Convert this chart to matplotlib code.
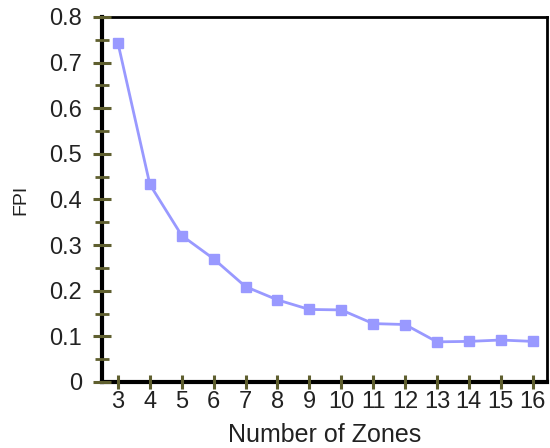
import matplotlib
matplotlib.use("Agg")
import matplotlib.pyplot as plt
from matplotlib.ticker import MultipleLocator

zones = [3, 4, 5, 6, 7, 8, 9, 10, 11, 12, 13, 14, 15, 16]
fpi = [0.743, 0.433, 0.321, 0.270, 0.209, 0.180, 0.159, 0.158, 0.128, 0.126, 0.088, 0.089, 0.092, 0.089]
yticks = [0, 0.1, 0.2, 0.3, 0.4, 0.5, 0.6, 0.7, 0.8]
ytick_labels = ["0", "0.1", "0.2", "0.3", "0.4", "0.5", "0.6", "0.7", "0.8"]

plt.rcParams['font.family'] = ['Liberation Sans', 'DejaVu Sans']

fig = plt.figure(figsize=(5.5, 4.48), dpi=100)
ax = fig.add_axes([102/550, 1-382/448, (547-102)/550, (382-17)/448])

ax.plot(zones, fpi, color='#9999ff', lw=2, marker='s', ms=6.5, mec='#9999ff', mfc='#9999ff', clip_on=False)

ax.set_xlim(2.5, 16.45)
ax.set_ylim(0, 0.8)
ax.set_xticks(zones)
ax.set_xticklabels([str(z) for z in zones])
ax.set_yticks(yticks)
ax.set_yticklabels(ytick_labels)
ax.yaxis.set_minor_locator(MultipleLocator(0.05))

tick_col = '#5f5f2f'
ax.tick_params(axis='y', which='major', direction='inout', length=13, width=2.2, color=tick_col, labelsize=17, pad=8, labelcolor='#222222')
ax.tick_params(axis='y', which='minor', direction='inout', length=9.5, width=2, color=tick_col)
ax.tick_params(axis='x', which='major', direction='inout', length=9.5, width=2.2, color=tick_col, labelsize=17, pad=2, labelcolor='#222222')

for s in ['left', 'bottom']:
    ax.spines[s].set_linewidth(3)
for s in ['top', 'right']:
    ax.spines[s].set_linewidth(2)
for s in ax.spines.values():
    s.set_color('black')
    s.set_zorder(1)

ax.set_xlabel('Number of Zones', fontsize=18, labelpad=7, color='#222222')
ax.set_ylabel('FPI', fontsize=14, labelpad=14, color='#222222')

fig.savefig('out.png', dpi=100)
